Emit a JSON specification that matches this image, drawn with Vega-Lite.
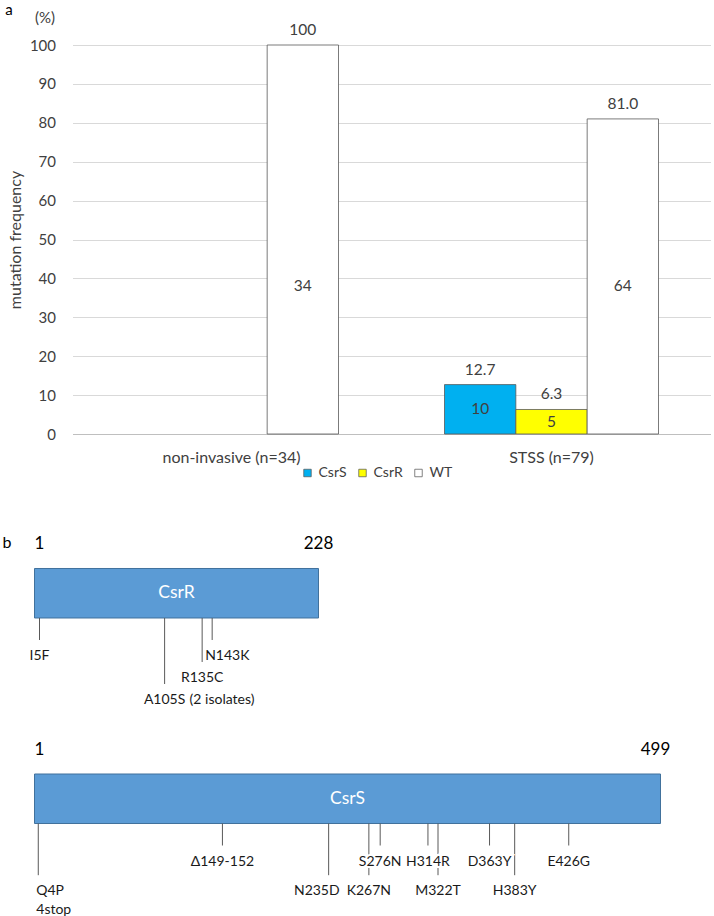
{
  "$schema": "https://vega.github.io/schema/vega-lite/v6.json",
  "background": "white",
  "padding": {"left": 1.5, "top": 2, "right": 0, "bottom": 0},
  "bounds": "flush",
  "spacing": 90,
  "config": {
    "view": {"stroke": null},
    "font": "Lato"
  },
  "datasets": {
    "freq": [
      {"group": "non-invasive (n=34)", "type": "WT", "freq": 100, "label": "100", "n": 34},
      {"group": "STSS (n=79)", "type": "CsrS", "freq": 12.7, "label": "12.7", "n": 10},
      {"group": "STSS (n=79)", "type": "CsrR", "freq": 6.3, "label": "6.3", "n": 5},
      {"group": "STSS (n=79)", "type": "WT", "freq": 81.0, "label": "81.0", "n": 64}
    ],
    "proteins": [
      {"protein": "CsrR", "start": 1, "end": 228},
      {"protein": "CsrS", "start": 1, "end": 499}
    ],
    "mutations": [
      {"protein": "CsrR", "pos": 5, "label": "I5F", "tier": 1},
      {"protein": "CsrR", "pos": 105, "label": "A105S", "note": "(2 isolates)", "tier": 3},
      {"protein": "CsrR", "pos": 135, "label": "R135C", "tier": 2},
      {"protein": "CsrR", "pos": 143, "label": "N143K", "tier": 1},
      {"protein": "CsrS", "pos": 4, "label": "Q4P\n4stop", "tier": 2.35},
      {"protein": "CsrS", "pos": 150.5, "label": "Δ149-152", "tier": 1},
      {"protein": "CsrS", "pos": 235, "label": "N235D", "tier": 2.35},
      {"protein": "CsrS", "pos": 267, "label": "K267N", "tier": 2.35},
      {"protein": "CsrS", "pos": 276, "label": "S276N", "tier": 1},
      {"protein": "CsrS", "pos": 314, "label": "H314R", "tier": 1},
      {"protein": "CsrS", "pos": 322, "label": "M322T", "tier": 2.35},
      {"protein": "CsrS", "pos": 363, "label": "D363Y", "tier": 1},
      {"protein": "CsrS", "pos": 383, "label": "H383Y", "tier": 2.35},
      {"protein": "CsrS", "pos": 426, "label": "E426G", "tier": 1}
    ]
  },
  "vconcat": [
    {
      "width": 638,
      "height": 389,
      "data": {"name": "freq"},
      "transform": [{"calculate": "min(datum.freq / 2, 38)", "as": "npos"}],
      "resolve": {"axis": {"x": "independent", "y": "independent"}},
      "layer": [
        {
          "mark": {"type": "bar", "stroke": "#595959", "strokeWidth": 0.8},
          "encoding": {
            "x": {
              "field": "group", "type": "nominal", "sort": ["non-invasive (n=34)", "STSS (n=79)"],
              "scale": {"paddingInner": 0.33125, "paddingOuter": 0.1625},
              "axis": {"orient": "bottom", "title": null, "labelAngle": 0, "labelFontSize": 16, "labelColor": "#404040", "labelPadding": 15, "ticks": false, "tickSize": 0, "domainColor": "#bfbfbf", "domainWidth": 1}
            },
            "xOffset": {"field": "type", "type": "nominal", "scale": {"domain": ["CsrS", "CsrR", "WT"], "paddingInner": 0, "paddingOuter": 0}},
            "y": {
              "field": "freq", "type": "quantitative", "scale": {"domain": [0, 100], "nice": false},
              "axis": {"orient": "left", "title": "mutation frequency", "values": [0, 10, 20, 30, 40, 50, 60, 70, 80, 90, 100], "grid": true, "gridColor": "#d9d9d9", "gridWidth": 1, "domain": false, "ticks": false, "tickSize": 0, "labelPadding": 17, "labelFontSize": 15, "labelColor": "#404040", "titleFontSize": 16, "titleFontWeight": "normal", "titleColor": "#404040", "titleX": -57, "titleY": 194.5, "titleAngle": -90, "titleAlign": "center", "titleBaseline": "middle"}
            },
            "fill": {
              "field": "type", "type": "nominal",
              "scale": {"domain": ["CsrS", "CsrR", "WT"], "range": ["#00b0f0", "#ffff00", "#ffffff"]},
              "legend": {"orient": "none", "legendX": 228, "legendY": 421, "direction": "horizontal", "title": null, "symbolType": "square", "symbolSize": 56, "symbolStrokeColor": "#595959", "symbolStrokeWidth": 0.75, "labelFontSize": 14, "labelColor": "#404040", "labelOffset": 4, "columnPadding": 8, "padding": 0}
            }
          }
        },
        {
          "mark": {"type": "text", "baseline": "middle", "dy": -15, "fontSize": 15.5, "color": "#404040"},
          "encoding": {
            "x": {"field": "group", "type": "nominal", "sort": ["non-invasive (n=34)", "STSS (n=79)"],
              "axis": {"orient": "top", "title": "a", "labels": false, "ticks": false, "domain": false, "grid": false, "titleX": -64, "titleY": -36, "titleAngle": 0, "titleAlign": "center", "titleBaseline": "middle", "titleFontSize": 15, "titleFontWeight": "normal", "titleColor": "#000000"}},
            "xOffset": {"field": "type", "type": "nominal"},
            "y": {"field": "freq", "type": "quantitative",
              "axis": {"orient": "left", "title": "(%)", "labels": false, "ticks": false, "domain": false, "grid": false, "titleX": -28, "titleY": -28, "titleAngle": 0, "titleAlign": "center", "titleBaseline": "middle", "titleFontSize": 15, "titleFontWeight": "normal", "titleColor": "#404040"}},
            "text": {"field": "label", "type": "nominal"}
          }
        },
        {
          "mark": {"type": "text", "baseline": "middle", "fontSize": 15.5, "color": "#404040"},
          "encoding": {
            "x": {"field": "group", "type": "nominal", "sort": ["non-invasive (n=34)", "STSS (n=79)"], "axis": null},
            "xOffset": {"field": "type", "type": "nominal"},
            "y": {"field": "npos", "type": "quantitative", "axis": null},
            "text": {"field": "n", "type": "nominal"}
          }
        }
      ]
    },
    {
      "width": 300,
      "height": 160,
      "resolve": {"axis": {"y": "independent"}},
      "layer": [
        {
          "data": {"name": "proteins"},
          "transform": [{"filter": "datum.protein === 'CsrR'"}, {"calculate": "-2.25", "as": "boxTop"}, {"calculate": "0", "as": "boxBottom"}],
          "mark": {"type": "rect", "fill": "#5b9bd5", "stroke": "#41719c", "strokeWidth": 1},
          "encoding": {
            "x": {"field": "start", "type": "quantitative", "scale": {"domain": [1, 228], "range": [-38, 246], "nice": false, "zero": false}, "axis": null},
            "x2": {"field": "end"},
            "y": {"field": "boxTop", "type": "quantitative", "scale": {"domain": [-4.2727, 3], "reverse": true, "nice": false, "zero": false},
              "axis": {"orient": "left", "title": "b", "labels": false, "ticks": false, "domain": false, "grid": false, "titleX": -66, "titleY": 18, "titleAngle": 0, "titleAlign": "center", "titleBaseline": "middle", "titleFontSize": 16, "titleFontWeight": "normal", "titleColor": "#000000"}},
            "y2": {"field": "boxBottom"}
          }
        },
        {
          "data": {"name": "proteins"},
          "transform": [{"filter": "datum.protein === 'CsrR'"}, {"calculate": "(datum.start + datum.end) / 2", "as": "mid"}, {"calculate": "-1.125", "as": "boxMid"}],
          "mark": {"type": "text", "color": "#ffffff", "fontSize": 17.5, "baseline": "middle"},
          "encoding": {
            "x": {"field": "mid", "type": "quantitative"},
            "y": {"field": "boxMid", "type": "quantitative", "axis": null},
            "text": {"field": "protein", "type": "nominal"}
          }
        },
        {
          "data": {"name": "proteins"},
          "transform": [{"filter": "datum.protein === 'CsrR'"}, {"calculate": "-2.25", "as": "boxTop"}],
          "mark": {"type": "text", "color": "#000000", "fontSize": 17, "baseline": "middle", "dx": 5, "dy": -24},
          "encoding": {
            "x": {"field": "start", "type": "quantitative"},
            "y": {"field": "boxTop", "type": "quantitative", "axis": null},
            "text": {"field": "start", "type": "quantitative"}
          }
        },
        {
          "data": {"name": "proteins"},
          "transform": [{"filter": "datum.protein === 'CsrR'"}, {"calculate": "-2.25", "as": "boxTop"}],
          "mark": {"type": "text", "color": "#000000", "fontSize": 17, "baseline": "middle", "dy": -24},
          "encoding": {
            "x": {"field": "end", "type": "quantitative"},
            "y": {"field": "boxTop", "type": "quantitative", "axis": null},
            "text": {"field": "end", "type": "quantitative"}
          }
        },
        {
          "data": {"name": "mutations"},
          "transform": [{"filter": "datum.protein === 'CsrR'"}, {"calculate": "0", "as": "boxBottom"}],
          "mark": {"type": "rule", "color": "#595959", "strokeWidth": 1},
          "encoding": {
            "x": {"field": "pos", "type": "quantitative"},
            "y": {"field": "boxBottom", "type": "quantitative", "axis": null},
            "y2": {"field": "tier"}
          }
        },
        {
          "data": {"name": "mutations"},
          "transform": [{"filter": "datum.protein === 'CsrR' && datum.label !== 'N143K'"}],
          "mark": {"type": "text", "color": "#1a1a1a", "fontSize": 14, "baseline": "middle", "dy": 16},
          "encoding": {
            "x": {"field": "pos", "type": "quantitative"},
            "y": {"field": "tier", "type": "quantitative", "axis": null},
            "text": {"field": "label", "type": "nominal"}
          }
        },
        {
          "data": {"name": "mutations"},
          "transform": [{"filter": "datum.protein === 'CsrR' && datum.label === 'N143K'"}],
          "mark": {"type": "text", "color": "#1a1a1a", "fontSize": 14, "baseline": "middle", "align": "left", "dx": -7, "dy": 16},
          "encoding": {
            "x": {"field": "pos", "type": "quantitative"},
            "y": {"field": "tier", "type": "quantitative", "axis": null},
            "text": {"field": "label", "type": "nominal"}
          }
        },
        {
          "data": {"name": "mutations"},
          "transform": [{"filter": "datum.protein === 'CsrR' && isValid(datum.note)"}],
          "mark": {"type": "text", "color": "#1a1a1a", "fontSize": 14, "baseline": "middle", "align": "left", "dx": 25, "dy": 16},
          "encoding": {
            "x": {"field": "pos", "type": "quantitative"},
            "y": {"field": "tier", "type": "quantitative", "axis": null},
            "text": {"field": "note", "type": "nominal"}
          }
        }
      ]
    },
    {
      "width": 600,
      "height": 101.2,
      "layer": [
        {
          "data": {"name": "proteins"},
          "transform": [{"filter": "datum.protein === 'CsrS'"}, {"calculate": "-2.25", "as": "boxTop"}, {"calculate": "0", "as": "boxBottom"}],
          "mark": {"type": "rect", "fill": "#5b9bd5", "stroke": "#41719c", "strokeWidth": 1},
          "encoding": {
            "x": {"field": "start", "type": "quantitative", "scale": {"domain": [1, 499], "range": [-38, 588], "nice": false, "zero": false}, "axis": null},
            "x2": {"field": "end"},
            "y": {"field": "boxTop", "type": "quantitative", "scale": {"domain": [-2.25, 2.35], "reverse": true, "nice": false, "zero": false}, "axis": null},
            "y2": {"field": "boxBottom"}
          }
        },
        {
          "data": {"name": "proteins"},
          "transform": [{"filter": "datum.protein === 'CsrS'"}, {"calculate": "(datum.start + datum.end) / 2", "as": "mid"}, {"calculate": "-1.125", "as": "boxMid"}],
          "mark": {"type": "text", "color": "#ffffff", "fontSize": 17.5, "baseline": "middle"},
          "encoding": {
            "x": {"field": "mid", "type": "quantitative"},
            "y": {"field": "boxMid", "type": "quantitative", "axis": null},
            "text": {"field": "protein", "type": "nominal"}
          }
        },
        {
          "data": {"name": "proteins"},
          "transform": [{"filter": "datum.protein === 'CsrS'"}, {"calculate": "-2.25", "as": "boxTop"}],
          "mark": {"type": "text", "color": "#000000", "fontSize": 17, "baseline": "middle", "dx": 5, "dy": -24},
          "encoding": {
            "x": {"field": "start", "type": "quantitative"},
            "y": {"field": "boxTop", "type": "quantitative", "axis": null},
            "text": {"field": "start", "type": "quantitative"}
          }
        },
        {
          "data": {"name": "proteins"},
          "transform": [{"filter": "datum.protein === 'CsrS'"}, {"calculate": "-2.25", "as": "boxTop"}],
          "mark": {"type": "text", "color": "#000000", "fontSize": 17, "baseline": "middle", "dx": -5, "dy": -24},
          "encoding": {
            "x": {"field": "end", "type": "quantitative"},
            "y": {"field": "boxTop", "type": "quantitative", "axis": null},
            "text": {"field": "end", "type": "quantitative"}
          }
        },
        {
          "data": {"name": "mutations"},
          "transform": [{"filter": "datum.protein === 'CsrS'"}, {"calculate": "0", "as": "boxBottom"}],
          "mark": {"type": "rule", "color": "#595959", "strokeWidth": 1},
          "encoding": {
            "x": {"field": "pos", "type": "quantitative"},
            "y": {"field": "boxBottom", "type": "quantitative", "axis": null},
            "y2": {"field": "tier"}
          }
        },
        {
          "data": {"name": "mutations"},
          "transform": [{"filter": "datum.protein === 'CsrS' && datum.label !== 'N235D' && indexof(datum.label, 'Q4P') !== 0"}],
          "mark": {"type": "text", "color": "#ffffff", "stroke": "#ffffff", "strokeWidth": 4, "fontSize": 14, "baseline": "middle", "dy": 16},
          "encoding": {
            "x": {"field": "pos", "type": "quantitative"},
            "y": {"field": "tier", "type": "quantitative", "axis": null},
            "text": {"field": "label", "type": "nominal"}
          }
        },
        {
          "data": {"name": "mutations"},
          "transform": [{"filter": "datum.protein === 'CsrS' && datum.label !== 'N235D' && indexof(datum.label, 'Q4P') !== 0"}],
          "mark": {"type": "text", "color": "#1a1a1a", "fontSize": 14, "baseline": "middle", "dy": 16},
          "encoding": {
            "x": {"field": "pos", "type": "quantitative"},
            "y": {"field": "tier", "type": "quantitative", "axis": null},
            "text": {"field": "label", "type": "nominal"}
          }
        },
        {
          "data": {"name": "mutations"},
          "transform": [{"filter": "datum.protein === 'CsrS' && indexof(datum.label, 'Q4P') === 0"}],
          "mark": {"type": "text", "color": "#1a1a1a", "fontSize": 14, "baseline": "middle", "align": "left", "dx": -2, "dy": 16, "lineBreak": "\n", "lineHeight": 19},
          "encoding": {
            "x": {"field": "pos", "type": "quantitative"},
            "y": {"field": "tier", "type": "quantitative", "axis": null},
            "text": {"field": "label", "type": "nominal"}
          }
        },
        {
          "data": {"name": "mutations"},
          "transform": [{"filter": "datum.protein === 'CsrS' && datum.label === 'N235D'"}],
          "mark": {"type": "text", "color": "#1a1a1a", "fontSize": 14, "baseline": "middle", "align": "right", "dx": 11, "dy": 16},
          "encoding": {
            "x": {"field": "pos", "type": "quantitative"},
            "y": {"field": "tier", "type": "quantitative", "axis": null},
            "text": {"field": "label", "type": "nominal"}
          }
        }
      ]
    }
  ]
}
